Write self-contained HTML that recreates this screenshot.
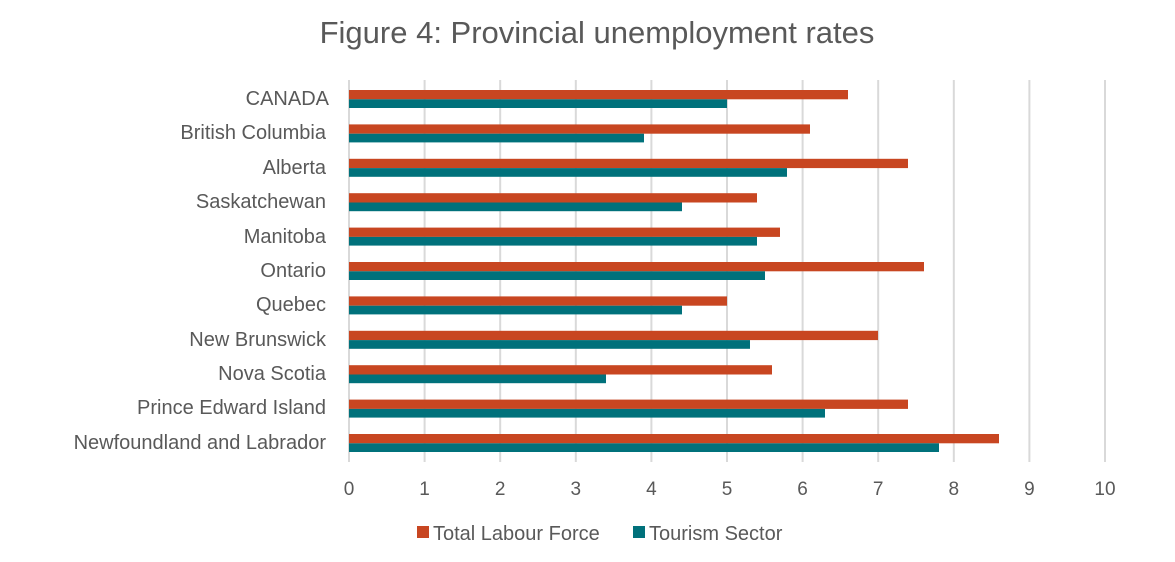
<!DOCTYPE html>
<html><head><meta charset="utf-8"><style>
body{margin:0;background:#fff;width:1175px;height:557px;overflow:hidden;font-family:"Liberation Sans",sans-serif;color:#595959}
</style></head><body>
<svg width="1175" height="557" xmlns="http://www.w3.org/2000/svg" font-family="Liberation Sans, sans-serif" fill="#595959">
<text x="597" y="43" font-size="31" text-anchor="middle">Figure 4: Provincial unemployment rates</text>
<g stroke="#d9d9d9" stroke-width="2">
<line x1="349" y1="80" x2="349" y2="462"/><line x1="424.6" y1="80" x2="424.6" y2="462"/><line x1="500.2" y1="80" x2="500.2" y2="462"/><line x1="575.8" y1="80" x2="575.8" y2="462"/><line x1="651.4" y1="80" x2="651.4" y2="462"/><line x1="727" y1="80" x2="727" y2="462"/><line x1="802.6" y1="80" x2="802.6" y2="462"/><line x1="878.2" y1="80" x2="878.2" y2="462"/><line x1="953.8" y1="80" x2="953.8" y2="462"/><line x1="1029.4" y1="80" x2="1029.4" y2="462"/><line x1="1105" y1="80" x2="1105" y2="462"/>
</g>
<g font-size="19" text-anchor="middle">
<text x="349" y="495">0</text><text x="424.6" y="495">1</text><text x="500.2" y="495">2</text><text x="575.8" y="495">3</text><text x="651.4" y="495">4</text><text x="727" y="495">5</text><text x="802.6" y="495">6</text><text x="878.2" y="495">7</text><text x="953.8" y="495">8</text><text x="1029.4" y="495">9</text><text x="1105" y="495">10</text>
</g>
<rect x="417" y="526" width="12" height="12" fill="#C84621"/>
<text x="433" y="540" font-size="20">Total Labour Force</text>
<rect x="633" y="526" width="12" height="12" fill="#00717B"/>
<text x="649" y="540" font-size="20">Tourism Sector</text>
<g font-size="20" text-anchor="end">
<text x="329" y="105">CANADA</text>
<text x="326" y="139">British Columbia</text>
<text x="326" y="174">Alberta</text>
<text x="326" y="208">Saskatchewan</text>
<text x="326" y="243">Manitoba</text>
<text x="326" y="277">Ontario</text>
<text x="326" y="311">Quebec</text>
<text x="326" y="346">New Brunswick</text>
<text x="326" y="380">Nova Scotia</text>
<text x="326" y="414">Prince Edward Island</text>
<text x="326" y="449">Newfoundland and Labrador</text>
</g>
<g>
<rect x="349" y="90" width="499" height="9.3" fill="#C84621"/><rect x="349" y="99.3" width="378" height="8.7" fill="#00717B"/>
<rect x="349" y="124.4" width="461" height="9.3" fill="#C84621"/><rect x="349" y="133.7" width="295" height="8.7" fill="#00717B"/>
<rect x="349" y="158.8" width="559" height="9.3" fill="#C84621"/><rect x="349" y="168.1" width="438" height="8.7" fill="#00717B"/>
<rect x="349" y="193.2" width="408" height="9.3" fill="#C84621"/><rect x="349" y="202.5" width="333" height="8.7" fill="#00717B"/>
<rect x="349" y="227.6" width="431" height="9.3" fill="#C84621"/><rect x="349" y="236.9" width="408" height="8.7" fill="#00717B"/>
<rect x="349" y="262" width="575" height="9.3" fill="#C84621"/><rect x="349" y="271.3" width="416" height="8.7" fill="#00717B"/>
<rect x="349" y="296.4" width="378" height="9.3" fill="#C84621"/><rect x="349" y="305.7" width="333" height="8.7" fill="#00717B"/>
<rect x="349" y="330.8" width="529" height="9.3" fill="#C84621"/><rect x="349" y="340.1" width="401" height="8.7" fill="#00717B"/>
<rect x="349" y="365.2" width="423" height="9.3" fill="#C84621"/><rect x="349" y="374.5" width="257" height="8.7" fill="#00717B"/>
<rect x="349" y="399.6" width="559" height="9.3" fill="#C84621"/><rect x="349" y="408.9" width="476" height="8.7" fill="#00717B"/>
<rect x="349" y="434" width="650" height="9.3" fill="#C84621"/><rect x="349" y="443.3" width="590" height="8.7" fill="#00717B"/>
</g>
</svg>
</body></html>
